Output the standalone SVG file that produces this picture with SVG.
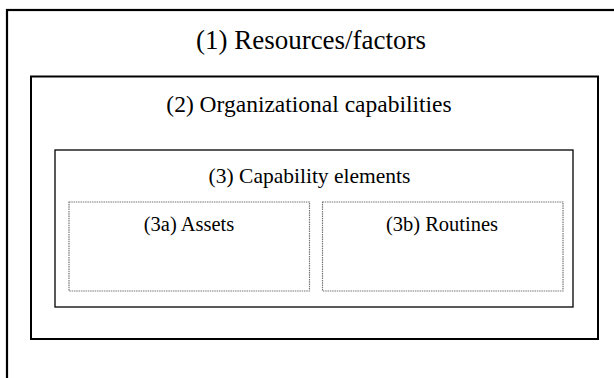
<svg xmlns="http://www.w3.org/2000/svg" width="614" height="378" viewBox="0 0 614 378">
<style>
text{font-family:"Liberation Serif","Times New Roman",serif;fill:#000;text-anchor:middle}
.solid{fill:none;stroke:#000}
.dash{fill:none;stroke:#777;stroke-width:1.2;stroke-dasharray:1.5 0.8}
</style>
<rect x="0" y="0" width="614" height="378" fill="#fff"/>
<g id="resources">
<rect class="solid" x="7" y="10" width="620" height="380" stroke-width="2.2"/>
<text x="311" y="49" font-size="27">(1) Resources/factors</text>
</g>
<g id="org-capabilities">
<rect class="solid" x="31" y="76.5" width="567" height="262.5" stroke-width="2"/>
<text x="309" y="112" font-size="23.5">(2) Organizational capabilities</text>
</g>
<g id="capability-elements">
<rect class="solid" x="55" y="150" width="518" height="157" stroke-width="1.3"/>
<text x="309.5" y="183" font-size="21.5">(3) Capability elements</text>
</g>
<g id="assets">
<rect class="dash" x="69" y="202" width="240.5" height="89"/>
<text x="189" y="231" font-size="20.5">(3a) Assets</text>
</g>
<g id="routines">
<rect class="dash" x="322.5" y="202" width="240.5" height="89"/>
<text x="442" y="231" font-size="20.5">(3b) Routines</text>
</g>
<g id="connectors"/>
</svg>
